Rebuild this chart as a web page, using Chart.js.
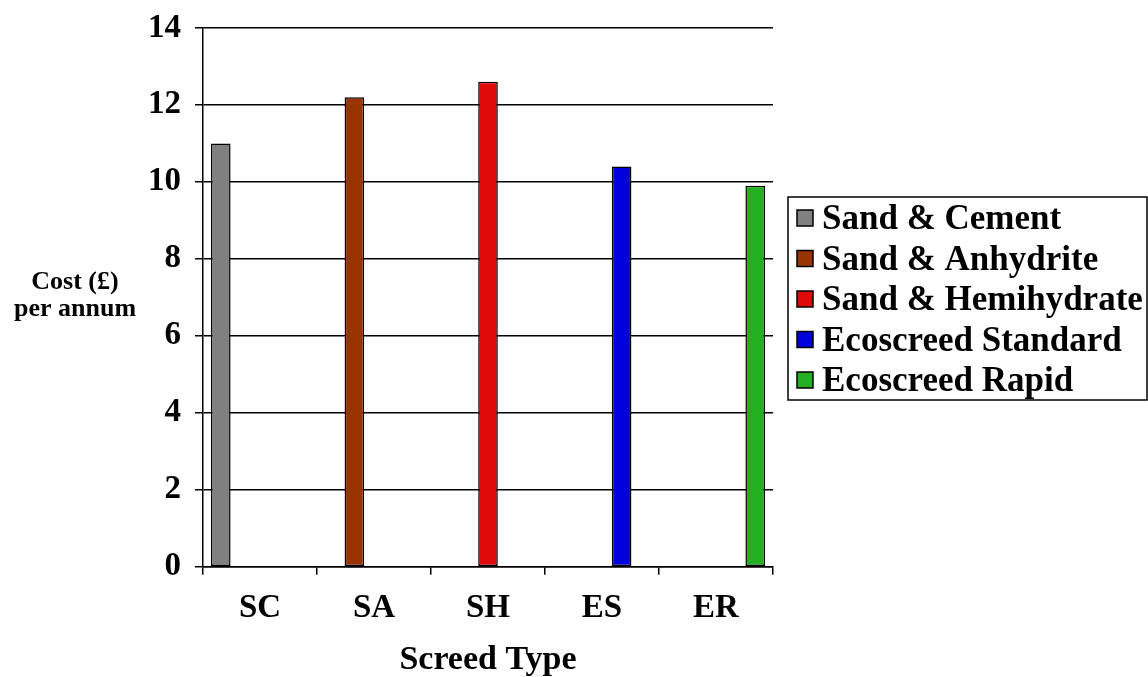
<!DOCTYPE html>
<html>
<head>
<meta charset="utf-8">
<script src="https://cdn.jsdelivr.net/npm/chart.js@4"></script>
<style>
  body { margin: 0; background: #fff; }
  #myChart { display: block; }
</style>
</head>
<body>
<canvas id="myChart" width="1148" height="677"></canvas>
<script>
// screed types on the x axis
var categories = ['SC', 'SA', 'SH', 'ES', 'ER'];
var seriesNames = ['Sand & Cement', 'Sand & Anhydrite', 'Sand & Hemihydrate', 'Ecoscreed Standard', 'Ecoscreed Rapid'];
var costValues = [11, 12.2, 12.6, 10.4, 9.9];
var seriesColors = ['#808080', '#993300', '#e00a0a', '#0000dd', '#22b022'];
var yTicks = [0, 2, 4, 6, 8, 10, 12, 14];

var FONT = '"Liberation Serif", "Times New Roman", serif';

// one series per screed type, only filled in its own category (Excel style)
var datasets = seriesNames.map(function (name, i) {
  return {
    label: name,
    data: categories.map(function (c, j) { return j === i ? costValues[i] : null; }),
    backgroundColor: seriesColors[i],
    borderColor: '#000',
    borderWidth: 1.5,
    borderSkipped: false,
    categoryPercentage: 0.86,
    barPercentage: 1.0
  };
});

// y axis title is horizontal in the original, so draw it by hand
const yTitle = {
  id: 'yTitle',
  afterDraw(chart) {
    const c = chart.ctx;
    const a = chart.chartArea;
    const mid = (a.top + a.bottom) / 2;
    c.save();
    c.fillStyle = '#000';
    c.font = 'bold 26px ' + FONT;
    c.textAlign = 'center';
    c.textBaseline = 'middle';
    c.fillText('Cost (£)', 75, mid - 15);
    c.fillText('per annum', 75, mid + 12);
    c.restore();
  }
};

// boxed legend on the right
const boxLegend = {
  id: 'boxLegend',
  afterDraw(chart) {
    const c = chart.ctx;
    const left = 788, top = 197, w = 359, h = 203;
    c.save();
    c.strokeStyle = '#000';
    c.lineWidth = 1.5;
    c.strokeRect(left, top, w, h);
    c.font = 'bold 35px ' + FONT;
    c.textBaseline = 'middle';
    chart.data.datasets.forEach(function (ds, i) {
      const y = top + 21 + i * 40.5;
      c.fillStyle = ds.backgroundColor;
      c.fillRect(797, y - 8, 16, 16);
      c.strokeRect(797, y - 8, 16, 16);
      c.fillStyle = '#000';
      c.fillText(ds.label, 822, y + 2);
    });
    c.restore();
  }
};

const ctx = document.getElementById('myChart');

new Chart(ctx, {
  type: 'bar',
  data: {
    labels: categories,
    datasets: datasets
  },
  options: {
    responsive: false,
    animation: false,
    layout: {
      padding: { top: 28, right: 375, bottom: 0, left: 0 }
    },
    plugins: {
      legend: { display: false },
      tooltip: { enabled: false }
    },
    scales: {
      x: {
        offset: true,
        grid: {
          display: true,
          drawOnChartArea: false,
          drawTicks: true,
          tickLength: 8,
          color: '#000',
          lineWidth: 1.5,
          offset: true
        },
        border: { color: '#000', width: 1.5 },
        ticks: {
          color: '#000',
          font: { family: FONT, size: 33, weight: 'bold', lineHeight: 1.1 },
          padding: 16
        },
        title: {
          display: true,
          text: 'Screed Type',
          color: '#000',
          font: { family: FONT, size: 34, weight: 'bold', lineHeight: 1.0 },
          padding: { top: 0, bottom: 0 }
        }
      },
      y: {
        min: 0,
        max: 14,
        afterBuildTicks: function (scale) {
          scale.ticks = yTicks.map(function (v) { return { value: v }; });
        },
        afterFit: function (scale) {
          scale.width = 203;
          scale.paddingTop = 0;
          scale.paddingBottom = 0;
        },
        grid: {
          color: '#000',
          lineWidth: 1.5,
          tickLength: 8
        },
        border: { color: '#000', width: 1.5 },
        ticks: {
          color: '#000',
          font: { family: FONT, size: 33, weight: 'bold' },
          padding: 14
        }
      }
    }
  },
  plugins: [yTitle, boxLegend]
});
</script>
</body>
</html>
